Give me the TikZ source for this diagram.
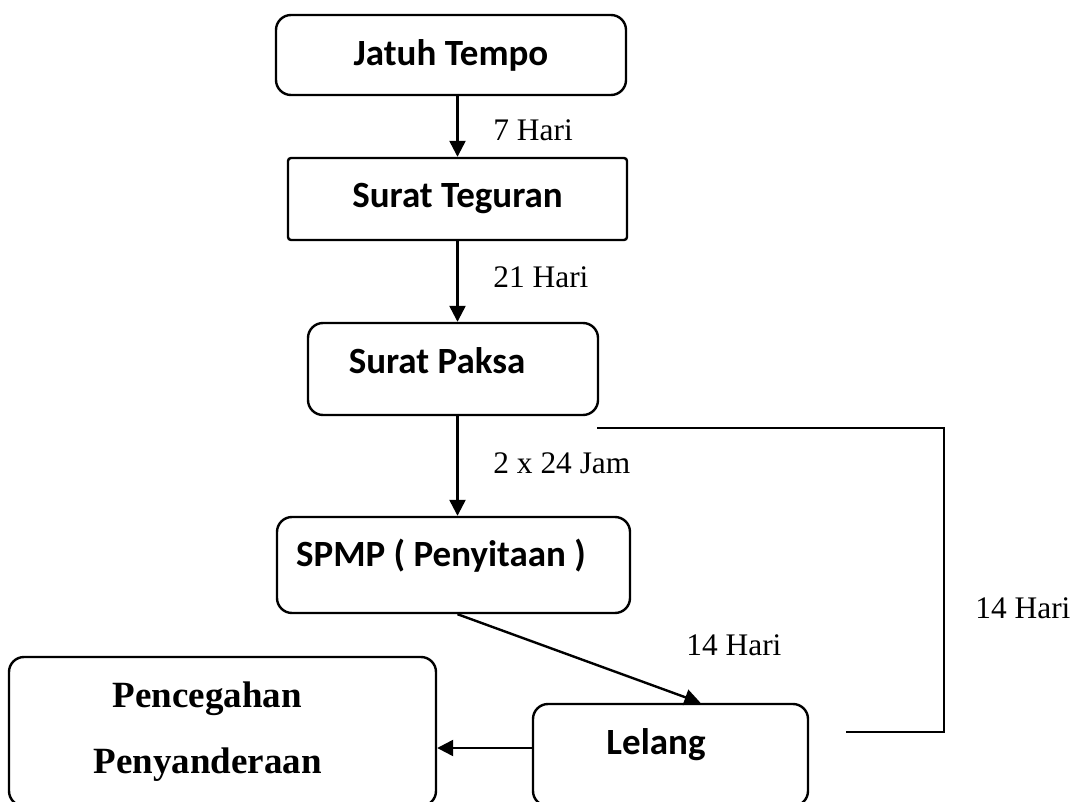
\documentclass[tikz,border=0pt]{standalone}
\usepackage{fontspec}
\setmainfont{Liberation Serif}
\newfontfamily\calibri{Carlito}
\usetikzlibrary{arrows.meta,positioning}
\definecolor{ink}{HTML}{000000}
\tikzset{
  stepbox/.style  ={draw=ink, line width=1.2pt, rounded corners=7.5pt,
                    inner sep=0pt, font=\calibri\bfseries\fontsize{18.5}{22}\selectfont},
  holdbox/.style  ={draw=ink, line width=1.2pt, rounded corners=7.5pt, align=center,
                    inner sep=0pt, font=\bfseries\fontsize{18.5}{33}\selectfont},
  daylabel/.style ={anchor=west, inner sep=0pt, font=\fontsize{15.7}{19}\selectfont},
  flowarr/.style  ={-{Triangle[length=8pt,width=8pt]}, line width=1.2pt, draw=ink},
  backline/.style ={line width=1.2pt, draw=ink},
}
\begin{document}
\begin{tikzpicture}[x=0.5pt,y=-0.5pt]
    \useasboundingbox (0,0) rectangle (1076,802);
    \clip (0,0) rectangle (1076,802);
    \node[stepbox,minimum width=175pt,minimum height=40pt] (tempo) at (451,55) {Jatuh Tempo};
    \node[stepbox,rounded corners=1.5pt,minimum width=169.5pt,minimum height=41pt] (teguran) at (457.5,199) {Surat Teguran};
    \node[stepbox,minimum width=145pt,minimum height=46pt,text depth=8pt] (paksa) at (453,369) {Surat Paksa\hspace*{16pt}};
    \node[stepbox,minimum width=176.5pt,minimum height=48pt,text depth=12pt] (spmp) at (453.5,565) {SPMP ( Penyitaan )\hspace*{12.5pt}};
    \node[stepbox,minimum width=137.5pt,minimum height=51pt,text depth=13pt] (lelang) at (670.5,755) {Lelang\hspace*{14.5pt}};
    \node[holdbox,minimum width=213.5pt,minimum height=74.5pt] (cegah) at (222.5,731.5) {Pencegahan\hspace*{15pt}\\Penyanderaan\hspace*{15pt}};

    \draw[flowarr] (teguran.north |- tempo.south) -- (teguran.north);
    \draw[flowarr] (teguran.south) -- (teguran.south |- paksa.north);
    \draw[flowarr] (teguran.south |- paksa.south) -- (teguran.south |- spmp.north);
    \draw[flowarr] (teguran.south |- spmp.south) -- ([xshift=15pt]lelang.north);
    \draw[flowarr] ([yshift=3.5pt]lelang.west) -- ([yshift=3.5pt]lelang.west -| cegah.east);
    \coordinate (fbstart) at (597,428);
    \coordinate (fbend) at (846,732);
    \draw[backline] (fbstart) -- ++(347,0) |- (fbend);

    \node[daylabel] (d7) at (493,130) {7 Hari};
    \node[daylabel] (d21) at (493,277) {21 Hari};
    \node[daylabel] (d2x24) at (493,463) {2 x 24 Jam};
    \node[daylabel] (d14a) at (686,645) {14 Hari};
    \node[daylabel] (d14b) at (975,608) {14 Hari};
  \end{tikzpicture}
\end{document}
